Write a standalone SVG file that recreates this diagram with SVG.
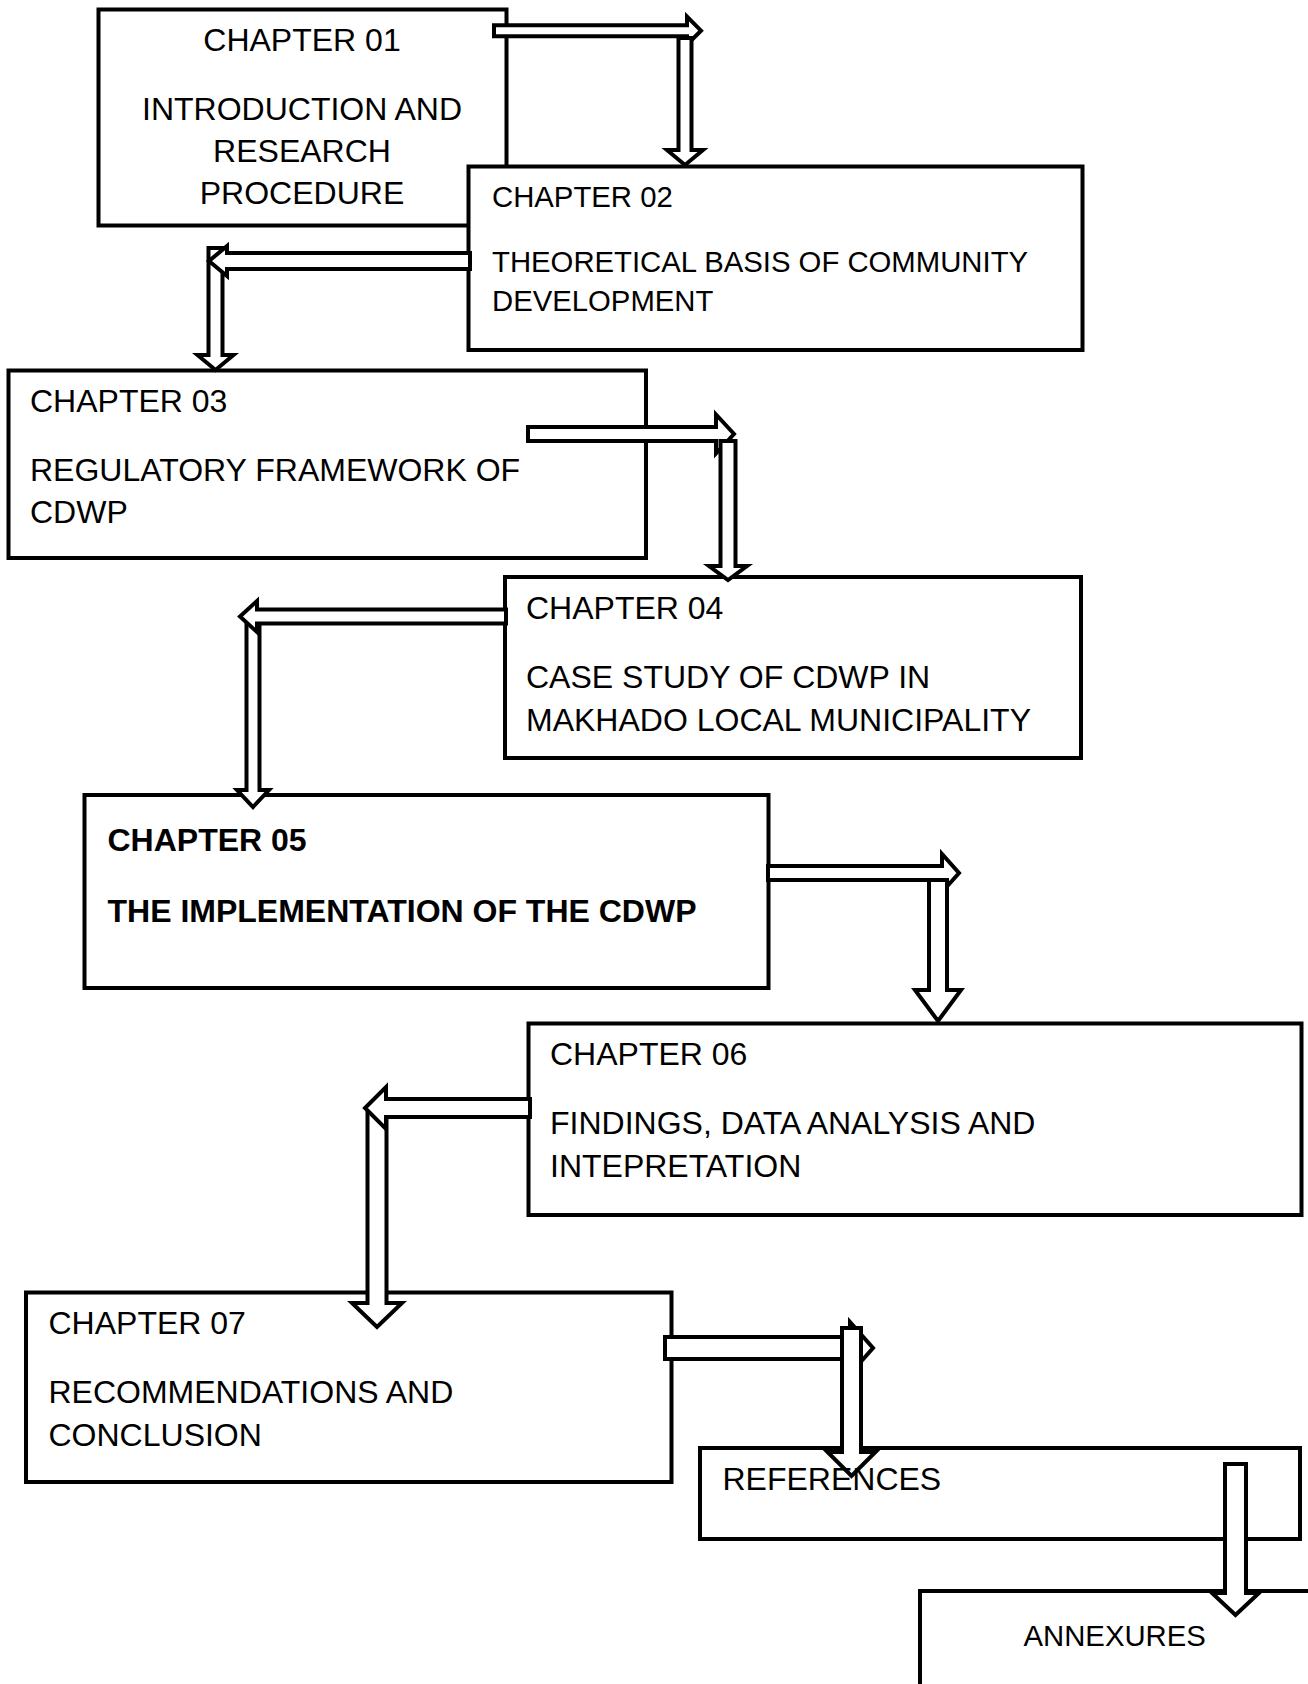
<svg xmlns="http://www.w3.org/2000/svg" width="1308" height="1684" viewBox="0 0 1308 1684">
  <defs>
    <style>
      .box { fill: #fff; stroke: #000; stroke-width: 4; }
      .arrow { fill: #fff; stroke: #000; stroke-width: 4; stroke-linejoin: miter; }
      .outline { fill: none; stroke: #000; stroke-width: 4; stroke-linejoin: miter; }
      .shaft { fill: #fff; stroke: none; }
      .t { font-family: "Liberation Sans", Arial, sans-serif; font-size: 32px; fill: #000; }
      .ts { font-family: "Liberation Sans", Arial, sans-serif; font-size: 29.3px; fill: #000; }
      .tb { font-family: "Liberation Sans", Arial, sans-serif; font-size: 32px; font-weight: bold; fill: #000; }
    </style>
  </defs>

  <rect width="1308" height="1684" fill="#fff"/>

  <!-- Chapter boxes -->
  <g id="ch01">
    <rect class="box" x="98.5" y="9.5" width="408" height="216"/>
    <text class="t" x="302" y="51" text-anchor="middle">CHAPTER 01</text>
    <text class="t" x="302" y="120" text-anchor="middle">INTRODUCTION AND</text>
    <text class="t" x="302" y="162" text-anchor="middle">RESEARCH</text>
    <text class="t" x="302" y="204" text-anchor="middle">PROCEDURE</text>
  </g>

  <g id="ch02">
    <rect class="box" x="468.5" y="166.5" width="614" height="183.5"/>
    <text class="ts" x="492" y="207">CHAPTER 02</text>
    <text class="ts" x="492" y="271.5">THEORETICAL BASIS OF COMMUNITY</text>
    <text class="ts" x="492" y="311">DEVELOPMENT</text>
  </g>

  <g id="ch03">
    <rect class="box" x="8.5" y="370.5" width="637.5" height="187.5"/>
    <text class="t" x="30" y="412">CHAPTER 03</text>
    <text class="t" x="30" y="481">REGULATORY FRAMEWORK OF</text>
    <text class="t" x="30" y="522.5">CDWP</text>
  </g>

  <g id="ch04">
    <rect class="box" x="505" y="577" width="576" height="181"/>
    <text class="t" x="526" y="619">CHAPTER 04</text>
    <text class="t" x="526" y="688">CASE STUDY OF CDWP IN</text>
    <text class="t" x="526" y="731">MAKHADO LOCAL MUNICIPALITY</text>
  </g>

  <g id="ch05">
    <rect class="box" x="84.5" y="795" width="684" height="193"/>
    <text class="tb" x="107.5" y="851">CHAPTER 05</text>
    <text class="tb" x="107.5" y="922">THE IMPLEMENTATION OF THE CDWP</text>
  </g>

  <g id="ch06">
    <rect class="box" x="528.5" y="1023.5" width="773" height="191.5"/>
    <text class="t" x="550" y="1065">CHAPTER 06</text>
    <text class="t" x="550" y="1134">FINDINGS, DATA ANALYSIS AND</text>
    <text class="t" x="550" y="1176.5">INTEPRETATION</text>
  </g>

  <g id="ch07">
    <rect class="box" x="26" y="1292.5" width="645.5" height="189.5"/>
    <text class="t" x="48.5" y="1333.5">CHAPTER 07</text>
    <text class="t" x="48.5" y="1403">RECOMMENDATIONS AND</text>
    <text class="t" x="48.5" y="1446">CONCLUSION</text>
  </g>

  <g id="references">
    <rect class="box" x="700" y="1448" width="600" height="91"/>
    <text class="t" x="722.5" y="1490">REFERENCES</text>
  </g>

  <g id="annexures">
    <rect class="box" x="920" y="1591" width="400" height="200"/>
    <text class="ts" x="1023.5" y="1646">ANNEXURES</text>
  </g>

  <!-- Block arrows between chapters -->
  <g id="connectors">
    <!-- 01 to 02 -->
    <polygon class="arrow" points="494,25.2 687,25.2 687,16.7 701,30.7 687,44.7 687,36.2 494,36.2"/>
    <polygon class="arrow" points="678.5,38 691.5,38 691.5,150 703,150 685,165 667,150 678.5,150"/>

    <!-- 02 to 03 -->
    <polygon class="arrow" points="208.5,248 222.5,248 222.5,355 233.5,355 215.5,370 197.5,355 208.5,355"/>
    <polygon class="arrow" points="470,253 227,253 227,246 209,261 227,276 227,269 470,269"/>

    <!-- 03 to 04 -->
    <polygon class="arrow" points="528,427 716,427 716,414.5 734,434 716,453.5 716,441 528,441"/>
    <polygon class="arrow" points="720.5,441 735.5,441 735.5,566 747,566 728,580 709,566 720.5,566"/>

    <!-- 04 to 05 -->
    <polygon class="arrow" points="246.5,622 259.5,622 259.5,790 269,790 253,807 237,790 246.5,790"/>
    <polygon class="arrow" points="506,609.5 257,609.5 257,601 240,616.5 257,632 257,623.5 506,623.5"/>

    <!-- 05 to 06 -->
    <polygon class="arrow" points="768,866 942,866 942,854 959,873 942,892 942,880 768,880"/>
    <polygon class="arrow" points="929,880 947,880 947,990 961,990 938,1021 915,990 929,990"/>

    <!-- 06 to 07 -->
    <polygon class="arrow" points="367.5,1112 386.5,1112 386.5,1303 402,1303 377,1327 352,1303 367.5,1303"/>
    <polygon class="arrow" points="530,1099 386,1099 386,1087 365,1108 386,1129 386,1117 530,1117"/>

    <!-- 07 to references -->
    <polygon class="arrow" points="665,1337 850,1337 850,1322 873,1348 850,1374 850,1359 665,1359"/>
    <rect class="shaft" x="842" y="1328" width="19" height="124"/>
    <polygon class="outline" points="842,1328 861,1328 861,1452 875.5,1452 851.5,1476 827.5,1452 842,1452"/>

    <!-- references to annexures -->
    <polygon class="arrow" points="1225,1464 1246,1464 1246,1593 1259,1593 1235.5,1615 1212,1593 1225,1593"/>
  </g>
</svg>
